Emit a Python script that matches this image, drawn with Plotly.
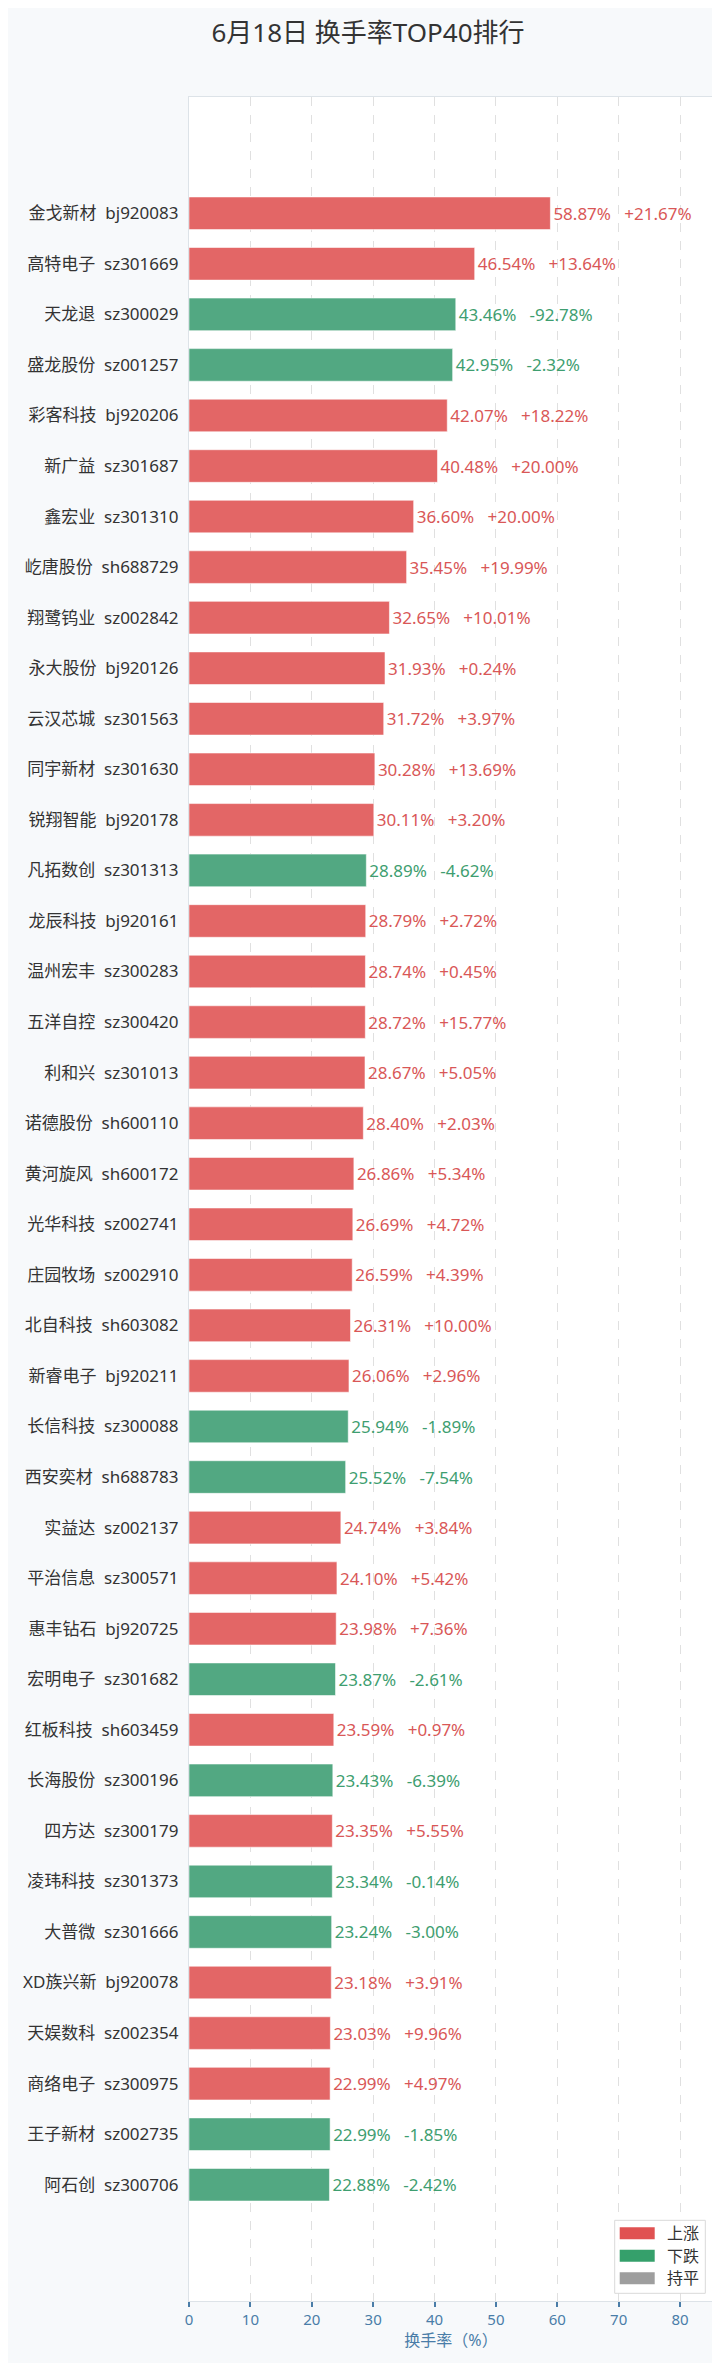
import plotly.graph_objects as go

# 6月18日 换手率TOP40
names = ["金戈新材", "高特电子", "天龙退", "盛龙股份", "彩客科技", "新广益", "鑫宏业", "屹唐股份",
         "翔鹭钨业", "永大股份", "云汉芯城", "同宇新材", "锐翔智能", "凡拓数创", "龙辰科技", "温州宏丰",
         "五洋自控", "利和兴", "诺德股份", "黄河旋风", "光华科技", "庄园牧场", "北自科技", "新睿电子",
         "长信科技", "西安奕材", "实益达", "平治信息", "惠丰钻石", "宏明电子", "红板科技", "长海股份",
         "四方达", "凌玮科技", "大普微", "XD族兴新", "天娱数科", "商络电子", "王子新材", "阿石创"]
codes = ["bj920083", "sz301669", "sz300029", "sz001257", "bj920206", "sz301687", "sz301310", "sh688729",
         "sz002842", "bj920126", "sz301563", "sz301630", "bj920178", "sz301313", "bj920161", "sz300283",
         "sz300420", "sz301013", "sh600110", "sh600172", "sz002741", "sz002910", "sh603082", "bj920211",
         "sz300088", "sh688783", "sz002137", "sz300571", "bj920725", "sz301682", "sh603459", "sz300196",
         "sz300179", "sz301373", "sz301666", "bj920078", "sz002354", "sz300975", "sz002735", "sz300706"]
turnover = [58.87, 46.54, 43.46, 42.95, 42.07, 40.48, 36.60, 35.45,
            32.65, 31.93, 31.72, 30.28, 30.11, 28.89, 28.79, 28.74,
            28.72, 28.67, 28.40, 26.86, 26.69, 26.59, 26.31, 26.06,
            25.94, 25.52, 24.74, 24.10, 23.98, 23.87, 23.59, 23.43,
            23.35, 23.34, 23.24, 23.18, 23.03, 22.99, 22.99, 22.88]
change = [21.67, 13.64, -92.78, -2.32, 18.22, 20.00, 20.00, 19.99,
          10.01, 0.24, 3.97, 13.69, 3.20, -4.62, 2.72, 0.45,
          15.77, 5.05, 2.03, 5.34, 4.72, 4.39, 10.00, 2.96,
          -1.89, -7.54, 3.84, 5.42, 7.36, -2.61, 0.97, -6.39,
          5.55, -0.14, -3.00, 3.91, 9.96, 4.97, -1.85, -2.42]

legend_items = ["上涨", "下跌", "持平"]
legend_colors = ["#E05252", "#35A06B", "#9E9E9E"]
bar_fill = {"up": "#E36666", "down": "#52A882", "flat": "#ABABAB"}
text_col = {"up": "#D95757", "down": "#3E9E70", "flat": "#888888"}

FONT = "Noto Sans, Noto Sans CJK SC"
AXIS_BLUE = "#4A7DA8"
NB = "\u00a0"


def trend(c):
    if c > 0:
        return "up"
    if c < 0:
        return "down"
    return "flat"


labels = [f"{n}{NB}{NB}{c}" for n, c in zip(names, codes)]
trends = [trend(c) for c in change]
bar_text = [f"{t:.2f}%{NB}{NB}{NB}{c:+.2f}%" for t, c in zip(turnover, change)]

fig = go.Figure()
fig.add_trace(go.Bar(
    x=turnover, y=labels, orientation="h",
    width=0.645,
    marker=dict(color=[bar_fill[t] for t in trends],
                line=dict(color="rgba(255,255,255,0.55)", width=1)),
    text=bar_text, textposition="outside",
    textfont=dict(family=FONT, size=17, color=[text_col[t] for t in trends]),
    cliponaxis=False, constraintext="none",
    showlegend=False, hoverinfo="skip",
))

xmax = max(turnover) * 1.45
n = len(labels)

fig.update_layout(
    width=720, height=2363,
    margin=dict(l=180.5, r=15, t=89, b=70),
    paper_bgcolor="#F7F9FB", plot_bgcolor="#FFFFFF",
    font=dict(family=FONT, color="#333333"),
    title=dict(text="6月18日 换手率TOP40排行", x=0.5, xanchor="center",
               y=1 - 25 / 2363, yref="container", yanchor="middle", automargin=False,
               font=dict(family=FONT, size=26, color="#333333")),
    xaxis=dict(range=[0, xmax], dtick=10, tick0=0, automargin=False,
               showgrid=True, gridcolor="#E0E0E0", griddash="dash", gridwidth=1,
               zeroline=False,
               showline=True, linecolor="#DDE3E8", linewidth=1.2, mirror=True,
               ticks="outside", ticklen=5, tickwidth=1.5, tickcolor=AXIS_BLUE,
               tickfont=dict(family=FONT, size=15, color=AXIS_BLUE),
               title=dict(text="换手率（%）", standoff=6,
                          font=dict(family=FONT, size=16, color=AXIS_BLUE))),
    yaxis=dict(type="category", categoryorder="array", categoryarray=labels,
               range=[n - 1 + 2.3, -2.3], automargin=False,
               showgrid=False, zeroline=False,
               showline=True, linecolor="#DDE3E8", linewidth=1.2, mirror=True,
               ticks="", ticklabelstandoff=6,
               tickfont=dict(family=FONT, size=17, color="#333333")),
)

# hand-made legend box in the lower right corner (pixel offsets from plot corner)
shapes = [dict(type="rect", xref="paper", yref="paper", xsizemode="pixel", ysizemode="pixel",
               xanchor=1, yanchor=0, x0=-98.3, x1=-7.7, y0=7.7, y1=80.7,
               fillcolor="rgba(255,255,255,0.92)", line=dict(color="#D9D9D9", width=1))]
annotations = []
for i, (item, col) in enumerate(zip(legend_items, legend_colors)):
    yc = 67.7 - i * 22.5
    shapes.append(dict(type="rect", xref="paper", yref="paper", xsizemode="pixel", ysizemode="pixel",
                       xanchor=1, yanchor=0, x0=-93.3, x1=-58.3, y0=yc - 6, y1=yc + 6,
                       fillcolor=col, line=dict(width=0)))
    annotations.append(dict(text=item, xref="paper", yref="paper", x=1, y=0,
                            xshift=-48, yshift=yc, xanchor="left", yanchor="middle",
                            showarrow=False, font=dict(family=FONT, size=16, color="#333333")))
fig.update_layout(shapes=shapes, annotations=annotations)

fig.write_html("out.html")
